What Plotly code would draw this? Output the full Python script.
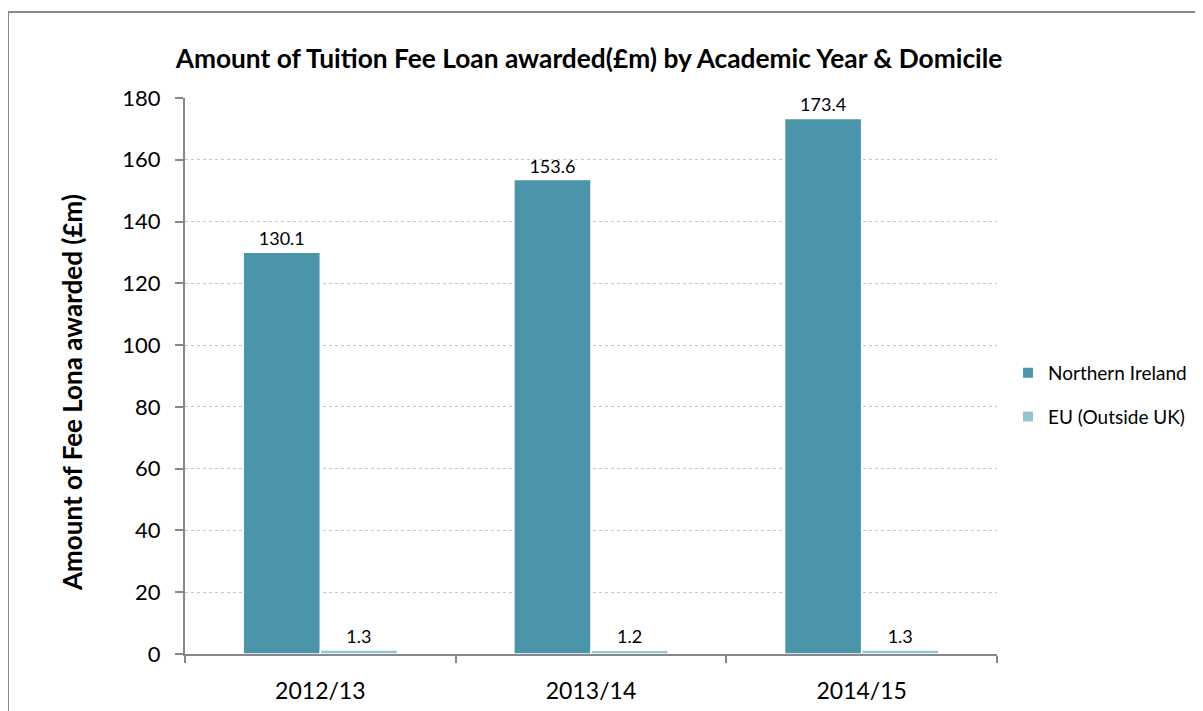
import plotly.graph_objects as go

years = ["2012/13", "2013/14", "2014/15"]
northern_ireland = [130.1, 153.6, 173.4]
eu_outside_uk = [1.3, 1.2, 1.3]
series_names = ["Northern Ireland", "EU (Outside UK)"]

FONT = "Lato, 'Open Sans', sans-serif"

# page offset (body margin) of 8px
OFF = 8
W, H = 1203, 711 - OFF + 20
L, R, T, B = 185 - OFF, 997 - OFF, 98 - OFF, 654 - OFF
pw, ph = R - L, B - T


def px(x):
    return (x - OFF - L) / pw


def py(y):
    return (B - (y - OFF)) / ph


fig = go.Figure()
fig.add_trace(go.Bar(
    x=years, y=northern_ireland, name=series_names[0], legendgroup="a",
    marker=dict(color="#4A95A9", line=dict(color="white", width=1.5)),
    text=[f"{v:.1f}" for v in northern_ireland], textposition="outside",
    textfont=dict(size=18, color="black", family=FONT), cliponaxis=False,
))
fig.add_trace(go.Bar(
    x=years, y=eu_outside_uk, name=series_names[1], legendgroup="b",
    marker=dict(color="#93C4D4", line=dict(color="white", width=1.5)),
    text=[f"{v:.1f}" for v in eu_outside_uk], textposition="outside",
    textfont=dict(size=18, color="black", family=FONT), cliponaxis=False,
))

fig.update_layout(
    width=W, height=H,
    margin=dict(l=L, r=W - R, t=T, b=H - B),
    paper_bgcolor="white", plot_bgcolor="white",
    font=dict(family=FONT, color="black"),
    barmode="group", bargap=0.43, bargroupgap=0,
    title=dict(text="<b>Amount of Tuition Fee Loan awarded(£m) by Academic Year &amp; Domicile</b>",
               x=px(589), xanchor="center", xref="paper",
               y=1 - (59 - OFF) / H, yanchor="middle", font=dict(size=26.3)),
    showlegend=True,
    legend=dict(x=px(1008), y=py(354), xanchor="left", yanchor="top",
                font=dict(size=19), tracegroupgap=16, traceorder="grouped",
                itemsizing="constant", bgcolor="rgba(0,0,0,0)"),
    xaxis=dict(
        showline=True, linecolor="#888888", linewidth=2,
        ticks="outside", tickson="boundaries", ticklen=7, tickcolor="#888888", tickwidth=2,
        tickfont=dict(size=23), showgrid=False, ticklabelstandoff=15,
    ),
    yaxis=dict(
        range=[0, 180], dtick=20, tick0=0,
        showline=True, linecolor="#888888", linewidth=2,
        ticks="outside", ticklen=8, tickcolor="#888888", tickwidth=2,
        tickfont=dict(size=22), ticklabelstandoff=10,
        showgrid=True, gridcolor="#C4C4C4", griddash="dot", gridwidth=1,
        zeroline=False,
    ),
    annotations=[dict(text="<b>Amount of Fee Lona awarded (£m)</b>", textangle=-90,
                      xref="paper", yref="paper", x=px(72), y=py(393),
                      xanchor="center", yanchor="middle", showarrow=False,
                      font=dict(size=26))],
    shapes=[dict(type="rect", xref="paper", yref="paper",
                 x0=px(8), y0=py(760), x1=px(1260), y1=py(12),
                 line=dict(color="#888888", width=2), fillcolor="rgba(0,0,0,0)", layer="below")],
)

fig.write_html("out.html")
